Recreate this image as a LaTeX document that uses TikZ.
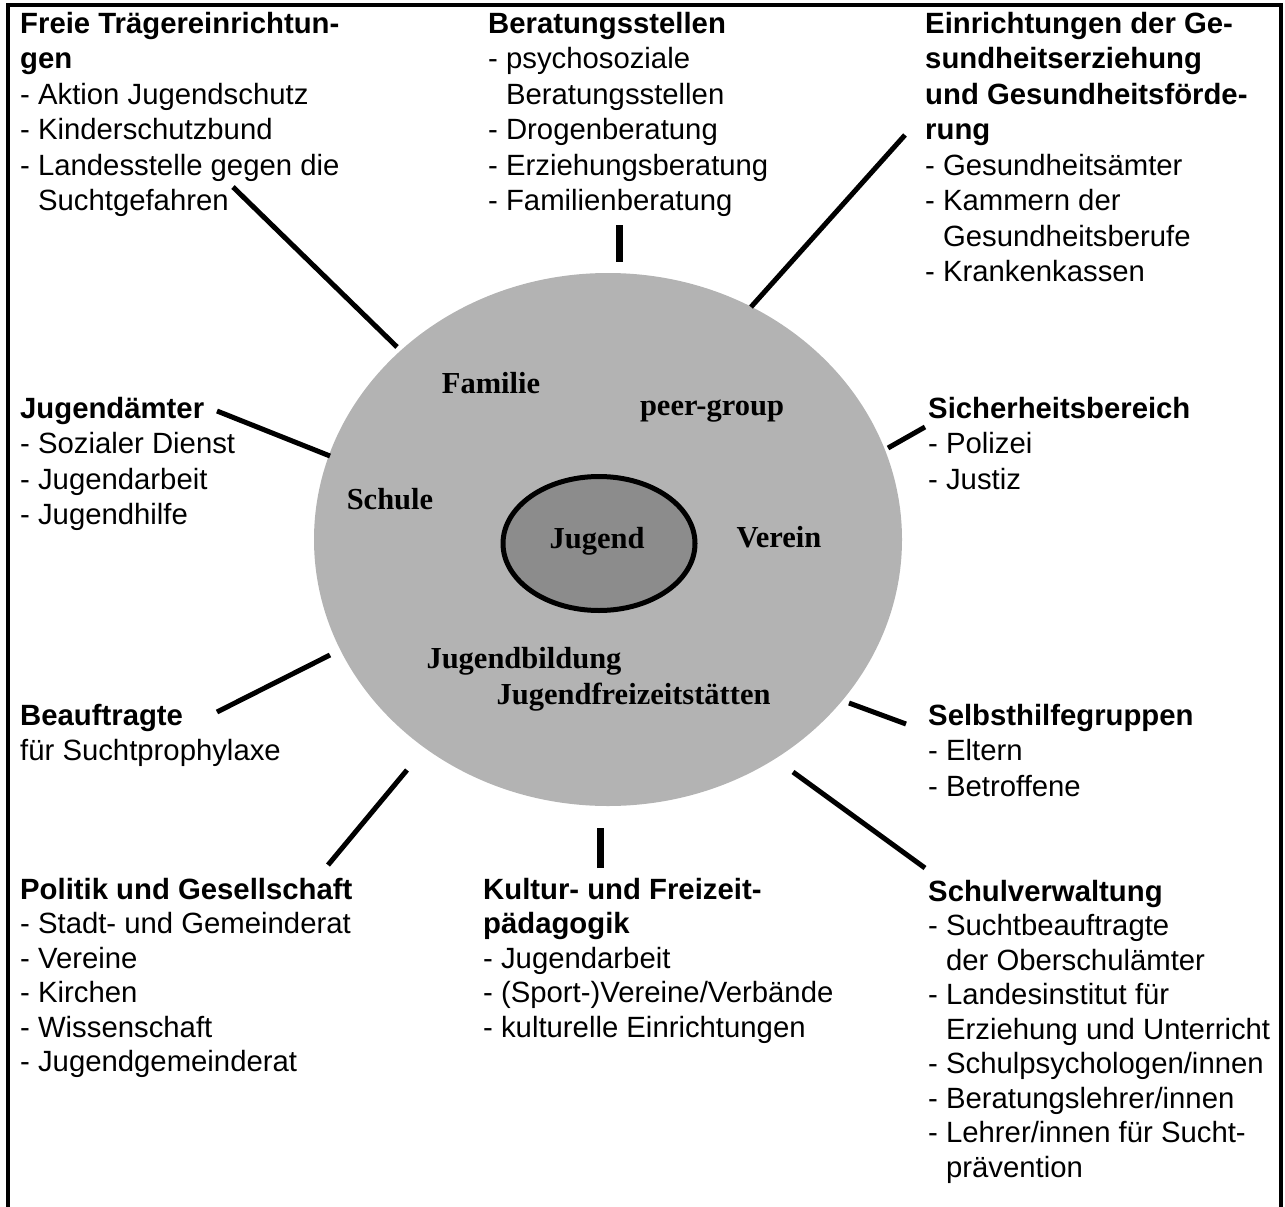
\documentclass[tikz,border=0pt]{standalone}
\usepackage{fontspec}
\setmainfont{Liberation Sans}
\newfontfamily\ringserif{Liberation Serif}
\usetikzlibrary{shapes.geometric}
\definecolor{ringgray}{RGB}{179,179,179}
\definecolor{coregray}{RGB}{140,140,140}
\newcommand{\firstline}{\rule{0pt}{25pt}}
\newcommand{\hang}{\hphantom{- }}
\newcommand{\head}[1]{\textbf{#1}}
\begin{document}
\begin{tikzpicture}[x=1pt,y=-1pt,
  blk/.style={anchor=north west, inner sep=0pt, align=left,
              font=\fontsize{29.3}{35.5}\selectfont},
  blklow/.style={blk, font=\fontsize{29.3}{34.5}\selectfont},
  ringlabel/.style={anchor=base, inner sep=0pt,
              font=\ringserif\bfseries\fontsize{30.5}{36}\selectfont},
  link/.style={line width=5pt},
  stub/.style={line width=7pt}]
\useasboundingbox (0,0) rectangle (1285,1207);

% open frame (no bottom edge)
\draw[line width=4pt] (8,1207) -- (8,5) -- (1281,5) -- (1281,1207);

% central ellipses
\node[ellipse, fill=ringgray, inner sep=0pt,
      minimum width=588pt, minimum height=533pt] (umfeld) at (608,539.5) {};
\node[ellipse, draw, line width=5pt, fill=coregray, inner sep=0pt,
      minimum width=192pt, minimum height=134pt] (kern) at (599,543.5) {};

\node[ringlabel] (jugend)  at (597,548.6) {Jugend};
\node[ringlabel] (familie) at (491,393.5) {Familie};
\node[ringlabel] (peer)    at (712,415)   {peer-group};
\node[ringlabel] (schule)  at (390,509.6) {Schule};
\node[ringlabel] (verein)  at (779,547)   {Verein};
\node[ringlabel] (bildung) at (524,668.8) {Jugendbildung};
\node[ringlabel] (freizeit) at (633.6,704.5) {Jugendfreizeitstätten};

% surrounding institutions
\node[blk] (freie) at (20,8) {\firstline\head{Freie Trägereinrichtun-}\\
  \head{gen}\\
  - Aktion Jugendschutz\\
  - Kinderschutzbund\\
  - Landesstelle gegen die\\
  \hang Suchtgefahren};

\node[blk] (beratung) at (488,8) {\firstline\head{Beratungsstellen}\\
  - psychosoziale\\
  \hang Beratungsstellen\\
  - Drogenberatung\\
  - Erziehungsberatung\\
  - Familienberatung};

\node[blk] (gesundheit) at (925,8) {\firstline\head{Einrichtungen der Ge-}\\
  \head{sundheitserziehung}\\
  \head{und Gesundheitsförde-}\\
  \head{rung}\\
  - Gesundheitsämter\\
  - Kammern der\\
  \hang Gesundheitsberufe\\
  - Krankenkassen};

\node[blk] (jugendamt) at (20,393) {\firstline\head{Jugendämter}\\
  - Sozialer Dienst\\
  - Jugendarbeit\\
  - Jugendhilfe};

\node[blk] (sicherheit) at (928,393) {\firstline\head{Sicherheitsbereich}\\
  - Polizei\\
  - Justiz};

\node[blk] (beauftragte) at (20,700) {\firstline\head{Beauftragte}\\
  für Suchtprophylaxe};

\node[blk] (selbsthilfe) at (928,700) {\firstline\head{Selbsthilfegruppen}\\
  - Eltern\\
  - Betroffene};

\node[blklow] (politik) at (20,874) {\firstline\head{Politik und Gesellschaft}\\
  - Stadt- und Gemeinderat\\
  - Vereine\\
  - Kirchen\\
  - Wissenschaft\\
  - Jugendgemeinderat};

\node[blklow] (kultur) at (483,874) {\firstline\head{Kultur- und Freizeit-}\\
  \head{pädagogik}\\
  - Jugendarbeit\\
  - (Sport-)Vereine/Verbände\\
  - kulturelle Einrichtungen};

\node[blklow] (schulverw) at (928,876) {\firstline\head{Schulverwaltung}\\
  - Suchtbeauftragte\\
  \hang der Oberschulämter\\
  - Landesinstitut für\\
  \hang Erziehung und Unterricht\\
  - Schulpsychologen/innen\\
  - Beratungslehrer/innen\\
  - Lehrer/innen für Sucht-\\
  \hang prävention};

% connector end points
\coordinate (freie-a) at (233,187);   \coordinate (freie-b) at (397,347);
\coordinate (berat-a) at (619,225);   \coordinate (berat-b) at (619,262);
\coordinate (gesund-a) at (905,135);  \coordinate (gesund-b) at (751,307);
\coordinate (jamt-a) at (217,411);    \coordinate (jamt-b) at (330,456);
\coordinate (sich-a) at (925,427);    \coordinate (sich-b) at (888,448);
\coordinate (beauf-a) at (217,712);   \coordinate (beauf-b) at (330,655);
\coordinate (selbst-a) at (906,724);  \coordinate (selbst-b) at (849,703);
\coordinate (pol-a) at (328,865);     \coordinate (pol-b) at (407,770);
\coordinate (kult-a) at (600.5,868);  \coordinate (kult-b) at (600.5,828);
\coordinate (schul-a) at (925,868);   \coordinate (schul-b) at (793,772);

% connectors
\draw[link] (freie-a) -- (freie-b);
\draw[stub] (berat-a) -- (berat-b);
\draw[link] (gesund-a) -- (gesund-b);
\draw[link] (jamt-a) -- (jamt-b);
\draw[link] (sich-a) -- (sich-b);
\draw[link] (beauf-a) -- (beauf-b);
\draw[link] (selbst-a) -- (selbst-b);
\draw[link] (pol-a) -- (pol-b);
\draw[stub] (kult-a) -- (kult-b);
\draw[link] (schul-a) -- (schul-b);
\end{tikzpicture}
\end{document}
